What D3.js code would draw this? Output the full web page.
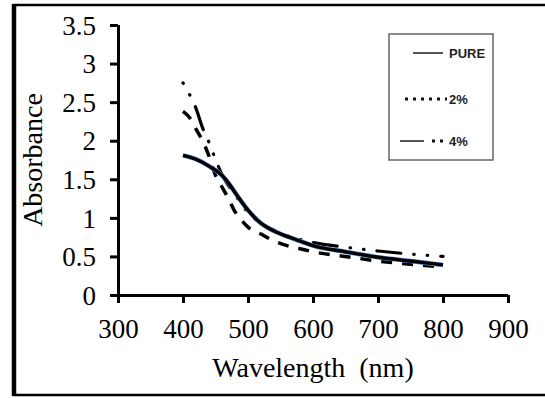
<!DOCTYPE html>
<html>
<head>
<meta charset="utf-8">
<script src="https://cdn.jsdelivr.net/npm/d3@7"></script>
<style>
html,body{margin:0;padding:0;background:#fff;}
svg{display:block;}
svg text{font-family:"Liberation Serif","Times New Roman",Tinos,serif !important;}
svg text.leg{font-family:"Liberation Sans",Arial,sans-serif !important;}
</style>
</head>
<body>
<svg id="chart" width="545" height="398" font-family="Liberation Serif"></svg>
<script>
// ---- data ----
const wlPure = [400,420,440,460,470,480,490,500,520,540,560,580,600,650,700,750,800];
const absPure = [1.81,1.76,1.67,1.55,1.45,1.33,1.21,1.10,0.93,0.83,0.76,0.70,0.64,0.56,0.49,0.44,0.39];
const wl2 = [400,410,420,430,440,450,460,470,480,490,500,520,540,560,580,600,650,700,750,800];
const abs2 = [2.38,2.30,2.15,2.00,1.80,1.55,1.40,1.25,1.08,0.97,0.88,0.79,0.70,0.64,0.60,0.56,0.50,0.44,0.40,0.36];
const wl4 = [400,410,420,430,440,450,460,480,500,520,540,560,580,600,650,700,750,800];
const abs4 = [2.75,2.60,2.42,2.17,1.98,1.76,1.56,1.30,1.07,0.93,0.84,0.77,0.72,0.68,0.62,0.57,0.53,0.50];
const xTicks = [300,400,500,600,700,800,900];
const yTicks = [0,0.5,1,1.5,2,2.5,3,3.5];
const yTickLabels = ["0","0.5","1","1.5","2","2.5","3","3.5"];
const seriesNames = ["PURE","2%","4%"];

const svg = d3.select("#chart");
svg.append("rect").attr("width",545).attr("height",398).attr("fill","#fff");

// outer frame
svg.append("rect").attr("x",14).attr("y",5).attr("width",545).attr("height",390)
  .attr("fill","none").attr("stroke","#000").attr("stroke-width",2.5);
svg.append("line").attr("x1",14).attr("x2",14).attr("y1",4).attr("y2",396)
  .attr("stroke","#000").attr("stroke-width",4.5);

const x = d3.scaleLinear().domain([300,900]).range([118,508]);
const y = d3.scaleLinear().domain([0,3.5]).range([295,25]);

// axes
const gy = svg.append("g").attr("transform","translate(118,0)")
  .call(d3.axisLeft(y).tickValues(yTicks).tickFormat((d,i)=>yTickLabels[i]).tickSize(8).tickPadding(14));
const gx = svg.append("g").attr("transform","translate(0,295)")
  .call(d3.axisBottom(x).tickValues(xTicks).tickFormat(d3.format("d")).tickSize(8).tickPadding(14));
[gx,gy].forEach(g=>{
  g.attr("font-family","Liberation Serif").attr("font-size",27);
  g.select(".domain").attr("stroke","#000").attr("stroke-width",3);
  g.selectAll(".tick line").attr("stroke","#000").attr("stroke-width",3);
  g.selectAll(".tick text").attr("fill","#000").attr("font-family","Liberation Serif").style("font-size","27px");
});
gy.select(".domain").attr("d","M0.5,25V295");
gx.select(".domain").attr("d","M118,0.5H508");
gy.selectAll(".tick text").attr("dy","0.34em");
gx.selectAll(".tick text").attr("dy","0.78em");

// titles
svg.append("text").attr("x",313).attr("y",377).attr("text-anchor","middle")
  .attr("font-family","Liberation Serif").style("font-size","28px").attr("fill","#000")
  .text("Wavelength\u00a0\u00a0(nm)");
svg.append("text").attr("transform","translate(42,160) rotate(-90)").attr("text-anchor","middle")
  .attr("font-family","Liberation Serif").style("font-size","28px").attr("fill","#000").text("Absorbance");

// lines
const line = d3.line().x(d=>x(d[0])).y(d=>y(d[1])).curve(d3.curveMonotoneX);
const dPure = wlPure.map((w,i)=>[w,absPure[i]]);
const d2 = wl2.map((w,i)=>[w,abs2[i]]);
const d4 = wl4.map((w,i)=>[w,abs4[i]]);

svg.append("path").datum(d2).attr("d",line).attr("fill","none")
  .attr("stroke","#000").attr("stroke-width",3.5).attr("stroke-dasharray","11,10");
svg.append("path").datum(d4).attr("d",line).attr("fill","none")
  .attr("stroke","#000").attr("stroke-width",3.2).attr("stroke-linecap","round")
  .attr("stroke-dasharray","24,13,0.5,13,0.5,13").attr("stroke-dashoffset",37);
svg.append("path").datum(dPure).attr("d",line).attr("fill","none")
  .attr("stroke","#5b86c4").attr("stroke-width",4.6);
svg.append("path").datum(dPure).attr("d",line).attr("fill","none")
  .attr("stroke","#000").attr("stroke-width",3.4);

// legend
const lg = svg.append("g");
lg.append("rect").attr("x",389).attr("y",34).attr("width",104).attr("height",126)
  .attr("fill","#fff").attr("stroke","#666").attr("stroke-width",1.5);
const legY = [53,99,141];
seriesNames.forEach((n,i)=>{
  lg.append("text").attr("class","leg").attr("x",449).attr("y",legY[i]).attr("dy","0.36em")
    .style("font-weight","bold").style("font-size","13px")
    .attr("fill","#222").text(n);
});
lg.append("line").attr("x1",413).attr("x2",443).attr("y1",53).attr("y2",53)
  .attr("stroke","#555").attr("stroke-width",2);
lg.append("line").attr("x1",405).attr("x2",447).attr("y1",99).attr("y2",99)
  .attr("stroke","#111").attr("stroke-width",3).attr("stroke-dasharray","3,5");
lg.append("line").attr("x1",400).attr("x2",424).attr("y1",141).attr("y2",141)
  .attr("stroke","#555").attr("stroke-width",2);
lg.append("line").attr("x1",432).attr("x2",445).attr("y1",141).attr("y2",141)
  .attr("stroke","#111").attr("stroke-width",3).attr("stroke-dasharray","3,5");
</script>
</body>
</html>
